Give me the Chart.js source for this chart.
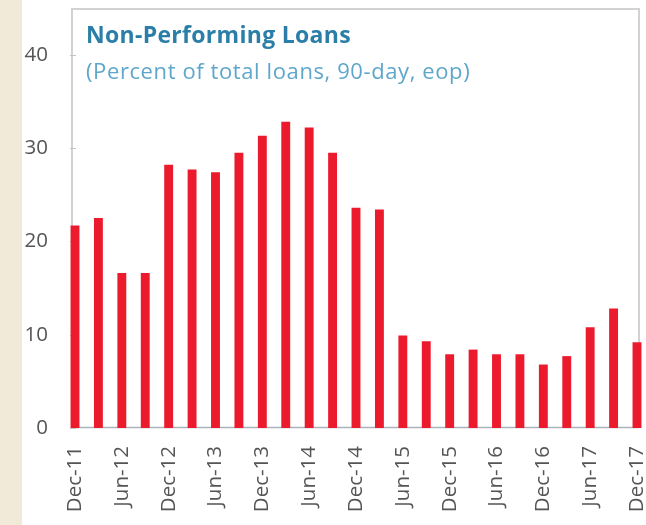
<!DOCTYPE html>
<html>
<head>
<meta charset="utf-8">
<title>Non-Performing Loans</title>
<script src="https://cdn.jsdelivr.net/npm/chart.js@4.4.1/dist/chart.umd.min.js"></script>
<style>
    html, body {
        margin: 0;
        padding: 0;
    }
    body {
        width: 646px;
        height: 525px;
        background: linear-gradient(to right, #f2ead8 0, #f2ead8 22px, #ffffff 22px);
        overflow: hidden;
    }
    .wrap {
        position: relative;
        width: 646px;
        height: 525px;
    }
    #npl {
        position: absolute;
        left: 0;
        top: 0;
    }
    .ttl {
        position: absolute;
        left: 86px;
        font-family: "Open Sans", Lato, sans-serif;
        white-space: nowrap;
    }
    .ttl.main {
        top: 18px;
        font-size: 23px;
        letter-spacing: 0.3px;
        font-weight: bold;
        color: #2a7ea8;
    }
    .ttl.sub {
        top: 55px;
        font-size: 22px;
        letter-spacing: 0.6px;
        color: #5ea7cb;
    }
</style>
</head>
<body>
<div class="wrap">
    <canvas id="npl" width="646" height="525"></canvas>
    <div class="ttl main">Non-Performing Loans</div>
    <div class="ttl sub">(Percent of total loans, 90-day, eop)</div>
</div>

<script>
    "use strict";

    // quarterly, end of period
    const quarters = [
        "Dec-11", "Mar-12", "Jun-12", "Sep-12",
        "Dec-12", "Mar-13", "Jun-13", "Sep-13",
        "Dec-13", "Mar-14", "Jun-14", "Sep-14",
        "Dec-14", "Mar-15", "Jun-15", "Sep-15",
        "Dec-15", "Mar-16", "Jun-16", "Sep-16",
        "Dec-16", "Mar-17", "Jun-17", "Sep-17",
        "Dec-17"
    ];

    // NPL ratio, percent of total loans
    const nplRatio = [
        21.7, 22.5, 16.6, 16.6,
        28.2, 27.7, 27.4, 29.5,
        31.3, 32.8, 32.2, 29.5,
        23.6, 23.4, 9.9, 9.3,
        7.9, 8.4, 7.9, 7.9,
        6.8, 7.7, 10.8, 12.8,
        9.2
    ];

    const yTicks = [0, 10, 20, 30, 40];

    // box around the plot plus the small left tick marks
    const frame = {
        id: "frame",
        beforeDatasetsDraw(chart) {
            const ctx = chart.ctx;
            const a = chart.chartArea;
            const y = chart.scales.y;
            const l = a.left - 3, r = a.right + 2, t = a.top + 1, b = a.bottom;
            ctx.save();
            ctx.strokeStyle = "#d2d2d2";
            ctx.lineWidth = 2;
            ctx.beginPath();
            ctx.moveTo(l, b);
            ctx.lineTo(l, t);
            ctx.lineTo(r, t);
            ctx.lineTo(r, b);
            ctx.stroke();

            ctx.strokeStyle = "#aab3bd";
            ctx.lineWidth = 1.5;
            ctx.beginPath();
            ctx.moveTo(l, b - 0.5);
            ctx.lineTo(r, b - 0.5);
            ctx.stroke();

            ctx.strokeStyle = "#c4c4c4";
            ctx.lineWidth = 1;
            yTicks.forEach(function (v) {
                const py = Math.round(y.getPixelForValue(v)) + 0.5;
                ctx.beginPath();
                ctx.moveTo(l - 2, py);
                ctx.lineTo(l + 4, py);
                ctx.stroke();
            });
            ctx.restore();
        }
    };

    const ctx = document.getElementById("npl").getContext("2d");
    const nplChart = new Chart(ctx, {
        type: "bar",
        data: {
            labels: quarters,
            datasets: [{
                data: nplRatio,
                backgroundColor: "#ec1a2d",
                borderWidth: 0,
                barPercentage: 0.38,
                categoryPercentage: 1.0,
                clip: 10
            }]
        },
        options: {
            responsive: false,
            animation: false,
            layout: {
                padding: { top: 8, right: 9, bottom: 0, left: 0 }
            },
            plugins: {
                legend: { display: false },
                title: { display: false },
                tooltip: { enabled: false }
            },
            scales: {
                x: {
                    offset: false,
                    border: { display: false },
                    grid: { display: false, drawTicks: false },
                    afterFit: function (scale) {
                        scale.height = 97;
                        scale.paddingLeft = 0;
                        scale.paddingRight = 0;
                    },
                    ticks: {
                        autoSkip: false,
                        minRotation: 90,
                        maxRotation: 90,
                        padding: 18,
                        color: "#555555",
                        font: { family: "Open Sans", size: 20.5 },
                        // only Jun and Dec are labelled
                        callback: function (val, i) {
                            return i % 2 === 0 ? quarters[i] : "";
                        }
                    }
                },
                y: {
                    min: 0,
                    max: 45,
                    border: { display: false },
                    grid: { display: false, drawTicks: false },
                    afterFit: function (scale) {
                        scale.width = 75;
                        scale.paddingTop = 0;
                        scale.paddingBottom = 0;
                    },
                    ticks: {
                        stepSize: 10,
                        padding: 27,
                        color: "#555555",
                        font: { family: "Open Sans", size: 20.5 },
                        callback: function (v) {
                            return yTicks.indexOf(v) >= 0 ? v : "";
                        }
                    }
                }
            }
        },
        plugins: [frame]
    });
</script>
</body>
</html>
